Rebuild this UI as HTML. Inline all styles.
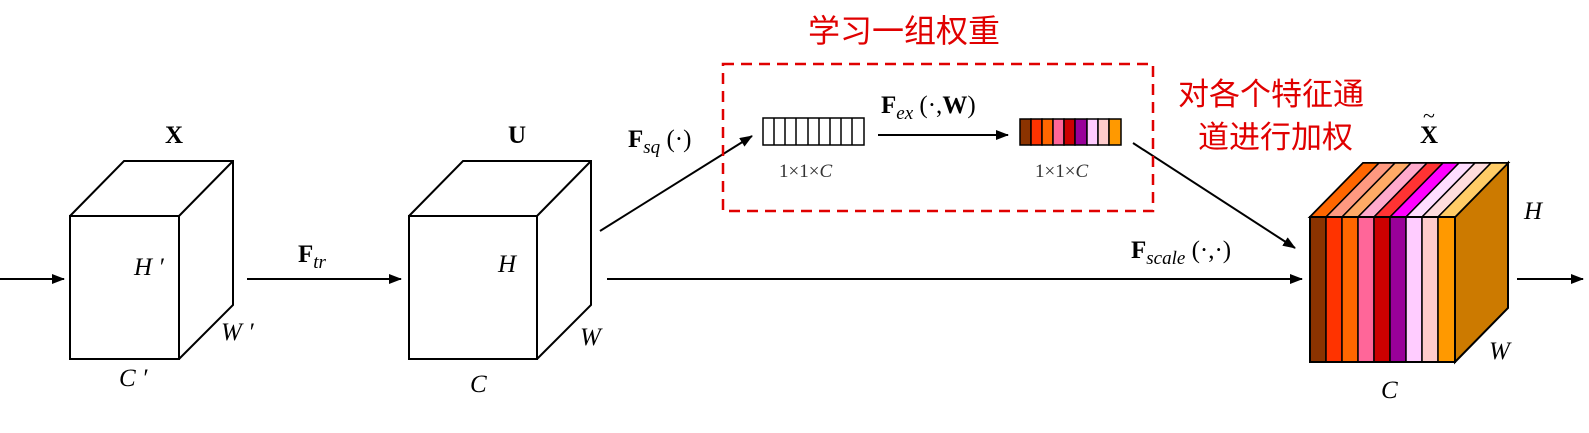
<!DOCTYPE html>
<html><head><meta charset="utf-8"><style>
html,body{margin:0;padding:0;background:#fff;width:1589px;height:433px;overflow:hidden}
text{font-family:"Liberation Serif",serif}
.cn{font-family:"Liberation Sans","Noto Sans CJK SC",sans-serif;fill:#e00000}
</style></head><body>
<svg width="1589" height="433" viewBox="0 0 1589 433" xmlns="http://www.w3.org/2000/svg">
<defs><marker id="a" markerWidth="13" markerHeight="10" refX="12" refY="5" orient="auto" markerUnits="userSpaceOnUse"><path d="M0,0 L13,5 L0,10 Z" fill="#000"/></marker></defs>
<g stroke="#000" stroke-width="2" fill="none">
<rect x="70" y="216" width="109" height="143" fill="#fff"/>
<path d="M70,216 L124,161 L233,161 L233,305 L179,359 M179,216 L233,161"/>
<rect x="409" y="216" width="128" height="143" fill="#fff"/>
<path d="M409,216 L463,161 L591,161 L591,305 L537,359 M537,216 L591,161"/>
<line x1="0" y1="279" x2="64" y2="279" marker-end="url(#a)"/>
<line x1="247" y1="279" x2="401" y2="279" marker-end="url(#a)"/>
<line x1="607" y1="279" x2="1302" y2="279" marker-end="url(#a)"/>
<line x1="600" y1="231" x2="752" y2="136" marker-end="url(#a)"/>
<line x1="878" y1="135" x2="1008" y2="135" marker-end="url(#a)"/>
<line x1="1133" y1="143" x2="1295" y2="248" marker-end="url(#a)"/>
<line x1="1517" y1="279" x2="1583" y2="279" marker-end="url(#a)"/>
</g>
<rect x="723" y="64" width="430" height="147" fill="none" stroke="#e00000" stroke-width="2.5" stroke-dasharray="11,7"/>
<g stroke="#000" stroke-width="1.5" fill="#fff">
<rect x="763" y="118" width="101" height="27"/>
<path d="M774,118v27M785,118v27M796,118v27M808,118v27M819,118v27M830,118v27M841,118v27M852,118v27"/>
</g>
<g stroke="#000" stroke-width="1.5">
<rect x="1020" y="119" width="11" height="26" fill="#8b3300"/>
<rect x="1031" y="119" width="11" height="26" fill="#ff3300"/>
<rect x="1042" y="119" width="11" height="26" fill="#ff6600"/>
<rect x="1053" y="119" width="11" height="26" fill="#ff6699"/>
<rect x="1064" y="119" width="11" height="26" fill="#cc0000"/>
<rect x="1075" y="119" width="12" height="26" fill="#990099"/>
<rect x="1087" y="119" width="11" height="26" fill="#ffccff"/>
<rect x="1098" y="119" width="11" height="26" fill="#ffcccc"/>
<rect x="1109" y="119" width="12" height="26" fill="#ff9900"/>
</g>
<g stroke="#000" stroke-width="2">
<path d="M1455,217 L1508,163 L1508,308 L1455,362 Z" fill="#cc7a00"/>
<path d="M1310,217 L1363,163 L1508,163 L1455,217 Z" fill="#ff9966"/>
<g stroke-width="1.5">
<path d="M1310,217 L1363,163 L1379,163 L1326,217Z" fill="#ff6600"/>
<path d="M1326,217 L1379,163 L1395,163 L1342,217Z" fill="#ff9980"/>
<path d="M1342,217 L1395,163 L1411,163 L1358,217Z" fill="#ffaa66"/>
<path d="M1358,217 L1411,163 L1427,163 L1374,217Z" fill="#ffaacc"/>
<path d="M1374,217 L1427,163 L1443,163 L1390,217Z" fill="#ff3333"/>
<path d="M1390,217 L1443,163 L1459,163 L1406,217Z" fill="#ff00ff"/>
<path d="M1406,217 L1459,163 L1475,163 L1422,217Z" fill="#ffddff"/>
<path d="M1422,217 L1475,163 L1491,163 L1438,217Z" fill="#ffdddd"/>
<path d="M1438,217 L1491,163 L1508,163 L1455,217Z" fill="#ffcc66"/>
<rect x="1310" y="217" width="16" height="145" fill="#8b3300"/>
<rect x="1326" y="217" width="16" height="145" fill="#ff3300"/>
<rect x="1342" y="217" width="16" height="145" fill="#ff6600"/>
<rect x="1358" y="217" width="16" height="145" fill="#ff6699"/>
<rect x="1374" y="217" width="16" height="145" fill="#cc0000"/>
<rect x="1390" y="217" width="16" height="145" fill="#990099"/>
<rect x="1406" y="217" width="16" height="145" fill="#ffccff"/>
<rect x="1422" y="217" width="16" height="145" fill="#ffcccc"/>
<rect x="1438" y="217" width="17" height="145" fill="#ff9900"/>
</g>
<rect x="1310" y="217" width="145" height="145" fill="none"/>
</g>
<g font-size="25">
<text x="165" y="143" font-weight="bold">X</text>
<text x="134" y="275" font-style="italic">H ′</text>
<text x="221" y="340" font-style="italic">W ′</text>
<text x="119" y="386" font-style="italic">C ′</text>
<text x="298" y="262" font-weight="bold">F<tspan font-size="19" font-weight="normal" font-style="italic" dy="6">tr</tspan></text>
<text x="508" y="143" font-weight="bold">U</text>
<text x="498" y="272" font-style="italic">H</text>
<text x="580" y="345" font-style="italic">W</text>
<text x="470" y="392" font-style="italic">C</text>
<text x="628" y="147" font-weight="bold">F<tspan font-size="19" font-weight="normal" font-style="italic" dy="6">sq</tspan><tspan font-weight="normal" dy="-6"> (·)</tspan></text>
<text x="881" y="113" font-weight="bold">F<tspan font-size="19" font-weight="normal" font-style="italic" dy="6">ex</tspan><tspan font-weight="normal" dy="-6"> (·,</tspan>W<tspan font-weight="normal">)</tspan></text>
<text x="1131" y="258" font-weight="bold">F<tspan font-size="19" font-weight="normal" font-style="italic" dy="6">scale</tspan><tspan font-weight="normal" dy="-6"> (·,·)</tspan></text>
<text x="1420" y="143" font-weight="bold">X</text>
<text x="1423" y="123" font-size="22">~</text>
<text x="1524" y="219" font-style="italic">H</text>
<text x="1489" y="359" font-style="italic">W</text>
<text x="1381" y="398" font-style="italic">C</text>
</g>
<text x="779" y="177" font-size="19" fill="#333">1×1×<tspan font-style="italic">C</tspan></text>
<text x="1035" y="177" font-size="19" fill="#333">1×1×<tspan font-style="italic">C</tspan></text>
<text class="cn" x="808" y="42" font-size="32">学习一组权重</text>
<text class="cn" x="1178" y="105" font-size="31">对各个特征通</text>
<text class="cn" x="1198" y="148" font-size="31">道进行加权</text>
</svg>
</body></html>
